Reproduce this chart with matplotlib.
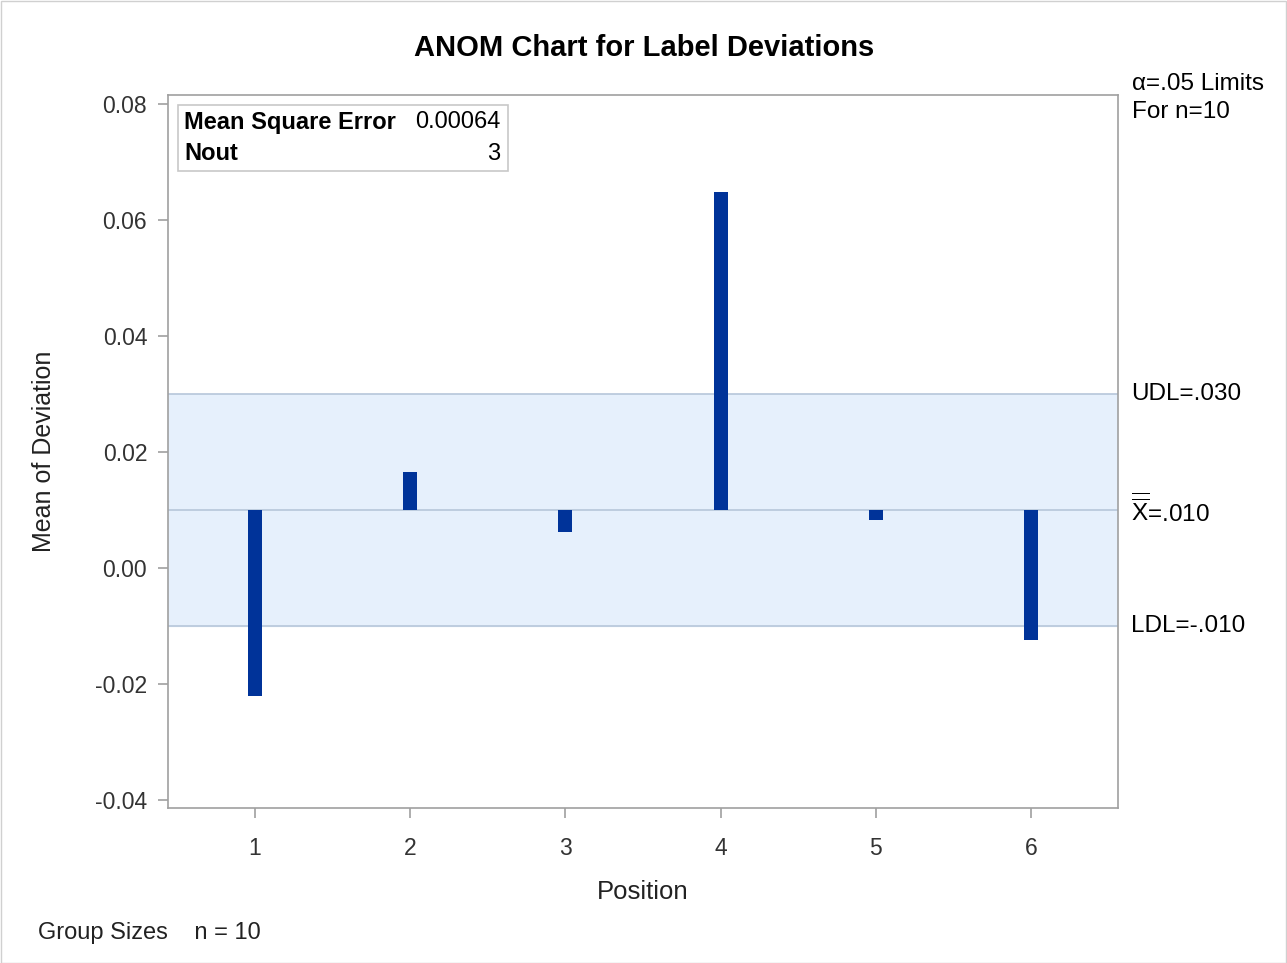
import matplotlib
matplotlib.use("Agg")
import matplotlib.pyplot as plt

plt.rcParams["font.family"] = ["Liberation Sans", "DejaVu Sans"]
plt.rcParams["mathtext.fontset"] = "custom"
plt.rcParams["mathtext.rm"] = "Liberation Sans"

positions = [1, 2, 3, 4, 5, 6]
means = [-0.0221, 0.0166, 0.0062, 0.0648, 0.0083, -0.0124]
center = 0.010
udl = 0.030
ldl = -0.010
yticks = [-0.04, -0.02, 0.00, 0.02, 0.04, 0.06, 0.08]

fig = plt.figure(figsize=(12.87, 9.63), dpi=100)
ax = fig.add_axes([168 / 1287, 1 - 808 / 963, 950 / 1287, 713 / 963])

ax.set_xlim(0.44, 6.56)
ax.set_ylim(-0.0414, 0.0816)

ax.axhspan(ldl, udl, color="#e6f0fc", zorder=0)
for v in (ldl, center, udl):
    ax.axhline(v, color="#b7c6da", lw=1.2, zorder=1)

ax.bar(positions, [m - center for m in means], bottom=center, width=0.09,
       color="#003399", zorder=2)

ax.set_xticks(positions)
ax.set_yticks(yticks)
ax.set_yticklabels([f"{t:.2f}" for t in yticks])
ax.tick_params(colors="#333333", labelsize=16.5, length=7, width=1.2, direction="out")
ax.tick_params(axis="both", color="#a0a0a0")
ax.tick_params(axis="x", pad=14)
ax.tick_params(axis="y", pad=8)
for s in ax.spines.values():
    s.set_color("#a0a0a0")
    s.set_linewidth(1.2)

ax.set_xlabel("Position", fontsize=18.5, color="#222222", labelpad=14)
ax.set_ylabel("Mean of Deviation", fontsize=18, color="#222222", labelpad=28)
fig.text(644 / 1287, 1 - 48 / 963, "ANOM Chart for Label Deviations",
         ha="center", va="center", fontsize=21, fontweight="bold")

# limit labels on the right
tr = ax.get_yaxis_transform()
ax.text(1.014, udl, "UDL=.030", transform=tr, ha="left", va="center", fontsize=17.5)
ax.text(1.014, center, r"$\overline{\overline{\mathrm{X}}}$=.010", transform=tr,
        ha="left", va="center", fontsize=17.5)
ax.text(1.014, ldl, "LDL=-.010", transform=tr, ha="left", va="center", fontsize=17.5)
fig.text(1132 / 1287, 1 - 98 / 963, "\u03b1=.05 Limits\nFor n=10", ha="left",
         va="center", fontsize=17.5, linespacing=1.3)

# inset table
ax.add_patch(plt.Rectangle((178 / 1287, 1 - 171 / 963), 330 / 1287, 66 / 963,
                           transform=fig.transFigure, fill=False,
                           edgecolor="#c8c8c8", lw=1.2, zorder=5))
fig.text(184 / 1287, 1 - 122 / 963, "Mean Square Error", fontsize=17,
         fontweight="bold", va="center")
fig.text(500 / 1287, 1 - 122 / 963, "0.00064", fontsize=17, ha="right", va="center")
fig.text(184 / 1287, 1 - 154 / 963, "Nout", fontsize=17, fontweight="bold", va="center")
fig.text(500 / 1287, 1 - 154 / 963, "3", fontsize=17, ha="right", va="center")

fig.text(38 / 1287, 1 - 933 / 963, "Group Sizes    n = 10", fontsize=17,
         va="center", color="#222222")

fig.patches.append(plt.Rectangle((0.5 / 1287, 0.5 / 963), 1 - 1.5 / 1287, 1 - 1.5 / 963,
                                 transform=fig.transFigure, fill=False,
                                 edgecolor="#d0d0d0", lw=1))

fig.savefig("out.png", dpi=100)
